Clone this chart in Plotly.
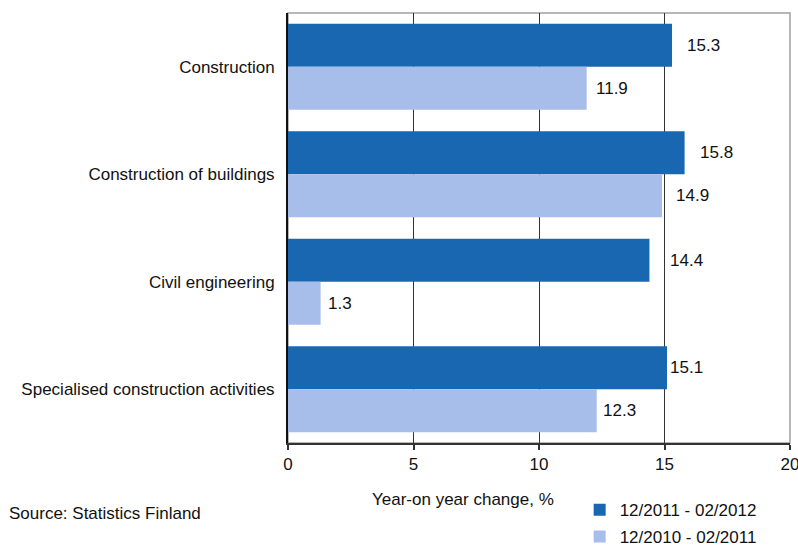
import plotly.graph_objects as go

categories = ["Construction", "Construction of buildings", "Civil engineering",
              "Specialised construction activities"]
series_names = ["12/2011 - 02/2012", "12/2010 - 02/2011"]
values_2012 = [15.3, 15.8, 14.4, 15.1]
values_2011 = [11.9, 14.9, 1.3, 12.3]
x_ticks = [0, 5, 10, 15, 20]

# horizontal pixel gap between bar end and its value label (as placed in the original)
label_gap_2012 = [13, 13, 18.5, 1]
label_gap_2011 = [7, 12, 5, 4]

DARK = "#1967B0"
LIGHT = "#A8BEEA"
FONT = "Liberation Sans, Arial, sans-serif"
FS = 17

fig = go.Figure()
fig.add_trace(go.Bar(y=categories, x=values_2012, orientation="h", name=series_names[0],
                     marker=dict(color=DARK, line=dict(width=0)), legend="legend",
                     showlegend=True))
fig.add_trace(go.Bar(y=categories, x=values_2011, orientation="h", name=series_names[1],
                     marker=dict(color=LIGHT, line=dict(width=0)), legend="legend2",
                     showlegend=True))

annotations = []
for cat, v, g in zip(categories, values_2012, label_gap_2012):
    annotations.append(dict(x=v, y=cat, xref="x", yref="y", text=f"{v:.1f}", showarrow=False,
                            xanchor="left", yanchor="middle", xshift=g, yshift=21.5,
                            font=dict(family=FONT, size=FS, color="#111")))
for cat, v, g in zip(categories, values_2011, label_gap_2011):
    annotations.append(dict(x=v, y=cat, xref="x", yref="y", text=f"{v:.1f}", showarrow=False,
                            xanchor="left", yanchor="middle", xshift=g, yshift=-21.5,
                            font=dict(family=FONT, size=FS, color="#111")))

annotations.append(dict(x=0.3486, y=-0.131, xref="paper", yref="paper",
                        text="Year-on year change, %", showarrow=False,
                        xanchor="center", yanchor="middle",
                        font=dict(family=FONT, size=FS, color="#111")))
annotations.append(dict(x=-0.5598, y=-0.1635, xref="paper", yref="paper",
                        text="Source: Statistics Finland", showarrow=False,
                        xanchor="left", yanchor="middle",
                        font=dict(family=FONT, size=FS, color="#111")))

fig.update_layout(
    width=798, height=546,
    showlegend=True,
    margin=dict(l=288, r=8, t=13, b=103, autoexpand=False),
    paper_bgcolor="white", plot_bgcolor="white",
    barmode="group", bargap=0.2, bargroupgap=0,
    font=dict(family=FONT, size=FS, color="#111"),
    annotations=annotations,
    shapes=[dict(type="rect", xref="paper", yref="paper", x0=0, x1=1, y0=0, y1=1,
                 line=dict(color="#A0A0A0", width=1.5), layer="below")],
    legend=dict(x=0.581, y=-0.1565, xanchor="left", yanchor="middle",
                font=dict(family=FONT, size=FS, color="#111"), bgcolor="rgba(0,0,0,0)"),
    legend2=dict(x=0.581, y=-0.2185, xanchor="left", yanchor="middle",
                 font=dict(family=FONT, size=FS, color="#111"), bgcolor="rgba(0,0,0,0)"),
    xaxis=dict(range=[0, 20], tickvals=x_ticks, ticktext=[str(t) for t in x_ticks],
               showgrid=True, gridcolor="#333333", gridwidth=1,
               showline=True, linecolor="#333333", linewidth=2,
               ticks="outside", ticklen=5, tickcolor="#333333", tickwidth=1.5,
               ticklabeloverflow="allow",
               zeroline=False, fixedrange=True),
    yaxis=dict(autorange="reversed", showline=True, linecolor="#111111", linewidth=2,
               ticks="", ticklabelstandoff=8, showgrid=False, fixedrange=True),
)

fig.write_html("out.html", config={"displayModeBar": False},
               post_script="document.body.style.margin='0';document.body.style.overflow='hidden';")
